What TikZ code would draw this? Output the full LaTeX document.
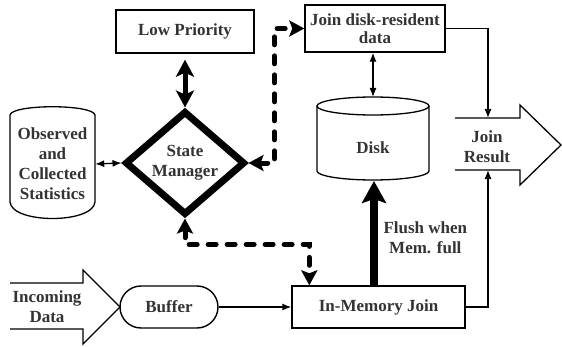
\documentclass[tikz,border=0pt]{standalone}
\usepackage{fontspec}
\setmainfont{Liberation Serif}
\usepackage{tikz}
\usetikzlibrary{arrows.meta,shapes.geometric}

\begin{document}
\begin{tikzpicture}[x=1pt, y=1pt,
  txt/.style={font=\fontsize{17}{20}\selectfont\bfseries, text=black!80, align=center},
  procbox/.style={txt, draw, line width=1.4pt, inner sep=1pt},
  thinline/.style={line width=1.3pt},
  thinarrow/.style={thinline, -{Latex[length=9pt,width=7pt]}},
  thintwo/.style={thinline, {Latex[length=9pt,width=7pt]}-{Latex[length=9pt,width=7pt]}},
  bigdash/.style={line width=5pt, dash pattern=on 8pt off 11pt, line cap=round,
    {Stealth[length=15pt,width=16pt,inset=3pt]}-{Stealth[length=15pt,width=16pt,inset=3pt]}},
  bigtwo/.style={line width=5pt, {Stealth[length=17pt,width=18pt,inset=4pt]}-{Stealth[length=17pt,width=18pt,inset=4pt]}},
  bigarrow/.style={line width=8pt, -{Stealth[length=22pt,width=24pt,inset=4pt]}}]
\useasboundingbox (0,0) rectangle (562,346);

% boxes
\node [procbox, minimum width=138, minimum height=43] (low) at (185,314.5) {Low Priority};
\node [procbox, minimum width=140, minimum height=47] (joindisk) at (375,317.5) {Join disk-resident\\[-2pt]data};
\node [procbox, minimum width=173, minimum height=42] (inmem) at (378.5,39) {In-Memory Join};
\node [procbox, rounded corners=21pt, minimum width=98, minimum height=42] (buffer) at (169,39) {Buffer};
\node [txt, diamond, draw, line width=7pt, minimum width=120, minimum height=104, inner sep=0pt] (state) at (185,183) {State\\Manager};

% statistics store
\node [txt, minimum width=85, minimum height=113] (stats) at (52.5,182) {Observed\\and\\Collected\\Statistics};
\draw [thinline] (10,144) -- (10,231) .. controls (12,242) and (93,242) .. (95,231)
  -- (95,144) .. controls (93,122) and (12,122) .. (10,144);

% disk
\node [txt, minimum width=112, minimum height=83] (disk) at (373,198) {Disk};
\draw [thinline] (317,240) -- (317,175) arc[start angle=180, end angle=360, x radius=56, y radius=9] -- (429,240);
\draw [thinline] (373,240) ellipse[x radius=56, y radius=9];
\coordinate (disktop) at (373,249);
\coordinate (diskbot) at (374,165);

% big arrows
\draw [thinline] (455,228) -- (520,228) -- (520,241) -- (561,201) -- (520,161) -- (520,176) -- (455,176);
\node [txt] (result) at (487,199) {Join\\Result};
\coordinate (restop) at (488,228);
\coordinate (resbot) at (488,176);

\draw [thinline] (10,63) -- (83,63) -- (83,76) -- (120,39) -- (83,2) -- (83,17) -- (10,17);
\node [txt] (incoming) at (47,39) {Incoming\\Data};

\node [txt, anchor=west] (flush) at (380,108) {Flush when\\Mem. full};

% connectors
\draw [thintwo] (stats.east) -- (state.west);
\draw [bigtwo, shorten <=6pt] (low.south) -- (state.north);
\draw [bigdash] (state.east) -- ++(26,0) |- (joindisk.west);
\draw [bigdash] (state.south) -- ++(0,-26) -| ([xshift=18pt]inmem.north west);
\draw [thintwo] (joindisk.south -| disktop) -- (disktop);
\draw [bigarrow] (inmem.north -| diskbot) -- (diskbot);
\draw [thinarrow] (buffer.east) -- (inmem.west);
\draw [thinarrow] (joindisk.east) -| (restop);
\draw [thinarrow] (inmem.east) -| (resbot);
\end{tikzpicture}
\end{document}
